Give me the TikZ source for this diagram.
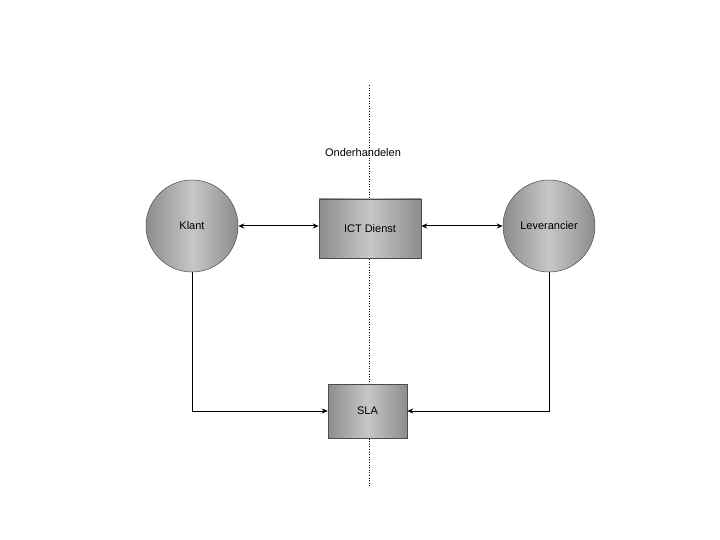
\documentclass[tikz,border=0pt]{standalone}
\usepackage{fontspec}
\setmainfont{Liberation Sans}
\usetikzlibrary{arrows.meta}
\begin{document}
\begin{tikzpicture}[x=1pt,y=-1pt,
  shade/.style={draw=black!70,line width=0.5pt,left color=black!45,right color=black!45,middle color=black!22,font=\fontsize{11}{13}\selectfont},
  link/.style={line width=0.6pt,-{Stealth[length=6pt,width=5pt]}},
  dlink/.style={line width=1pt,{Stealth[length=6pt,width=5pt]}-{Stealth[length=6pt,width=5pt]}}]
\useasboundingbox (0,0) rectangle (720,540);
\draw[dotted,line width=0.6pt] (369,85) -- (369,487);
\node[shade,circle,minimum size=92pt,inner sep=0pt] (k) at (192,226) {Klant};
\node[shade,circle,minimum size=92pt,inner sep=0pt] (l) at (549,226) {Leverancier};
\node[shade,rectangle,minimum width=102pt,minimum height=59pt] (i) at (370,228.5) {ICT Dienst};
\node[shade,rectangle,minimum width=79pt,minimum height=54pt] (s) at (367.5,411) {SLA};
\node[font=\fontsize{11}{13}\selectfont] (o) at (363,153) {Onderhandelen};
\draw[dlink] (k.east) -- (i.west |- k.east);
\draw[dlink] (i.east |- l.west) -- (l.west);
\draw[link] (k.south) |- (s.west);
\draw[link] (l.south) |- (s.east);
\end{tikzpicture}
\end{document}
